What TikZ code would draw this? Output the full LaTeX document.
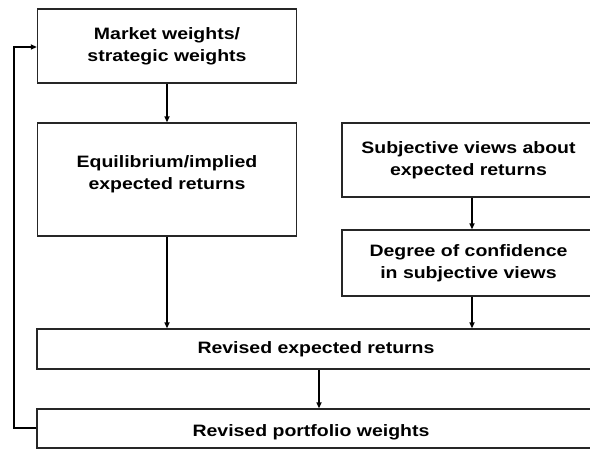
\documentclass[tikz,border=0pt]{standalone}
\usepackage{fontspec}
\setmainfont[FakeStretch=1.18]{Liberation Sans}
\usetikzlibrary{arrows.meta,calc}
\begin{document}
\begin{tikzpicture}[x=1pt,y=-1pt,
  box/.style={draw=black!85,line width=1.3pt,rectangle,inner sep=0pt,align=center,
    font=\fontsize{16.5}{22}\selectfont\bfseries},
  lbl/.style={inner sep=0pt,align=center,font=\fontsize{16.5}{22}\selectfont\bfseries},
  arr/.style={line width=1.6pt,-{Triangle[length=6pt,width=5pt]}}]
\useasboundingbox (0,0) rectangle (590,449);
\clip (0,0) rectangle (590,449);
\fill[white] (0,0) rectangle (590,449);
\node[box,minimum width=259pt,minimum height=74pt] (m) at (167,46) {Market weights/\\strategic weights};
\node[box,minimum width=259pt,minimum height=113pt] (e) at (167,179.5) {};
\node[lbl] (et) at (167,174) {Equilibrium/implied\\expected returns};
\node[box,minimum width=253pt,minimum height=74pt] (s) at (468.5,160) {Subjective views about\\expected returns};
\node[box,minimum width=253pt,minimum height=66pt] (d) at (468.5,263) {Degree of confidence\\in subjective views};
\node[box,minimum width=558pt,minimum height=40pt] (r) at (316,349) {Revised expected returns};
\node[box,minimum width=558pt,minimum height=39pt] (p) at (316,428.5) {};
\node[lbl] (pt) at (311,432) {Revised portfolio weights};
\draw[arr] (m.south) -- (e.north);
\draw[arr] (e.south) -- (r.north -| e.south);
\draw[arr] (s.south -| 472,0) -- (d.north -| 472,0);
\draw[arr] (d.south -| 472,0) -- (r.north -| 472,0);
\draw[arr] (r.south -| 319,0) -- (p.north -| 319,0);
\coordinate (fb1) at (14,428);
\coordinate (fb2) at (14,47);
\draw[arr] (p.west |- fb1) -- (fb1) -- (fb2) -- (m.west |- fb2);
\end{tikzpicture}
\end{document}
